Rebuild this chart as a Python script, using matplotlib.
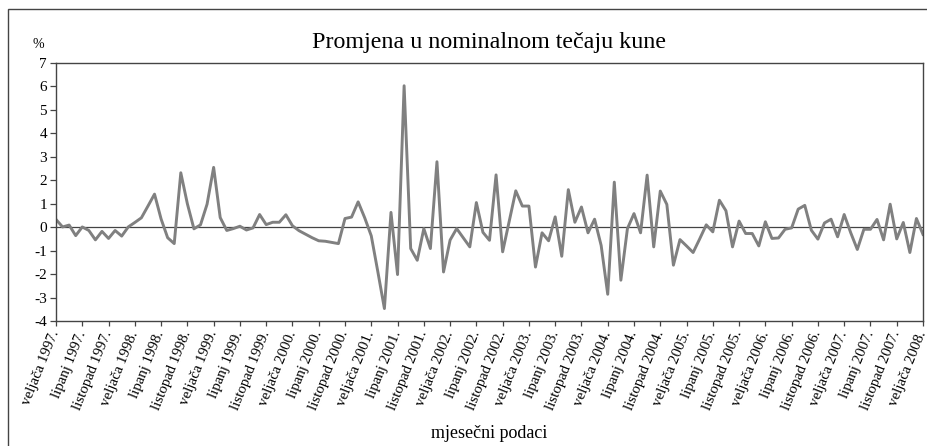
import matplotlib.pyplot as plt
from matplotlib.patches import Rectangle
import numpy as np

plt.rcParams['font.family'] = ['Liberation Serif', 'DejaVu Serif']
plt.rcParams['axes.unicode_minus'] = False

# monthly change of nominal kuna exchange rate, Feb 1997 - Feb 2008 (%)
values = [
    0.33, 0.01, 0.09, -0.36, 0.01, -0.14, -0.54, -0.18, -0.48, -0.14,
    -0.38, 0.01, 0.20, 0.40, 0.90, 1.41, 0.35, -0.45, -0.70, 2.32,
    1.00, -0.07, 0.10, 0.98, 2.55, 0.41, -0.14, -0.06, 0.04, -0.12,
    -0.03, 0.54, 0.11, 0.21, 0.21, 0.53, 0.06, -0.15, -0.30, -0.45,
    -0.58, -0.60, -0.65, -0.70, 0.37, 0.43, 1.08, 0.40, -0.37, -1.90,
    -3.47, 0.63, -2.02, 6.03, -0.91, -1.41, -0.06, -0.91, 2.79, -1.91,
    -0.55, -0.06, -0.45, -0.84, 1.05, -0.22, -0.56, 2.23, -1.05, 0.25,
    1.55, 0.90, 0.90, -1.70, -0.24, -0.58, 0.44, -1.24, 1.60, 0.21,
    0.86, -0.24, 0.34, -0.78, -2.86, 1.92, -2.26, -0.06, 0.58, -0.24,
    2.22, -0.84, 1.54, 0.97, -1.62, -0.53, -0.80, -1.08, -0.50, 0.10,
    -0.20, 1.15, 0.70, -0.84, 0.26, -0.27, -0.27, -0.80, 0.23, -0.48,
    -0.46, -0.09, -0.03, 0.77, 0.93, -0.13, -0.51, 0.18, 0.34, -0.41,
    0.54, -0.24, -0.95, -0.09, -0.09, 0.33, -0.54, 0.98, -0.50, 0.20,
    -1.08, 0.37, -0.31,
]
month_names = ['veljača', 'lipanj', 'listopad']
years = list(range(1997, 2009))
tick_labels = [f'{m} {y}.' for y in years for m in month_names][:34]

title = 'Promjena u nominalnom tečaju kune'
xlabel = 'mjesečni podaci'

x = np.arange(len(values))

fig = plt.figure(figsize=(9.28, 4.46), dpi=100)
ax = fig.add_axes([56 / 928, 1 - 321 / 446, 867 / 928, 258 / 446])

# outer frame (cut off on the right and bottom like the source)
fig.add_artist(Rectangle((8 / 928, -0.1), 1.2, 1 - 9 / 446 + 0.1,
                         transform=fig.transFigure, fill=False,
                         edgecolor='#444444', linewidth=1.0, clip_on=False))

ax.axhline(0, color='#444444', linewidth=0.9, zorder=1)
ax.plot(x, values, color='#808080', linewidth=2.1, zorder=2)

ax.set_xlim(0, len(values) - 1)
ax.set_ylim(-4, 7)
ax.set_yticks(range(-4, 8))
ax.set_xticks(np.arange(0, len(values), 4))
ax.set_xticklabels(tick_labels, rotation=68, ha='right', va='center',
                   rotation_mode='anchor', fontsize=10.7)
ax.tick_params(axis='y', direction='out', length=4.5, width=0.9,
               colors='#444444', labelcolor='black', labelsize=11, pad=2)
ax.tick_params(axis='x', direction='out', length=3.5, width=0.9,
               colors='#444444', labelcolor='black', pad=4)
for s in ax.spines.values():
    s.set_color('#444444')
    s.set_linewidth(1.0)

ax.set_title(title, fontsize=17.3, pad=11)
fig.text(38 / 928, 1 - 45 / 446, '%', fontsize=10, ha='center', va='center')
fig.text(489 / 928, 1 - 434 / 446, xlabel, fontsize=13, ha='center', va='center')

fig.savefig('out.png', dpi=100)
